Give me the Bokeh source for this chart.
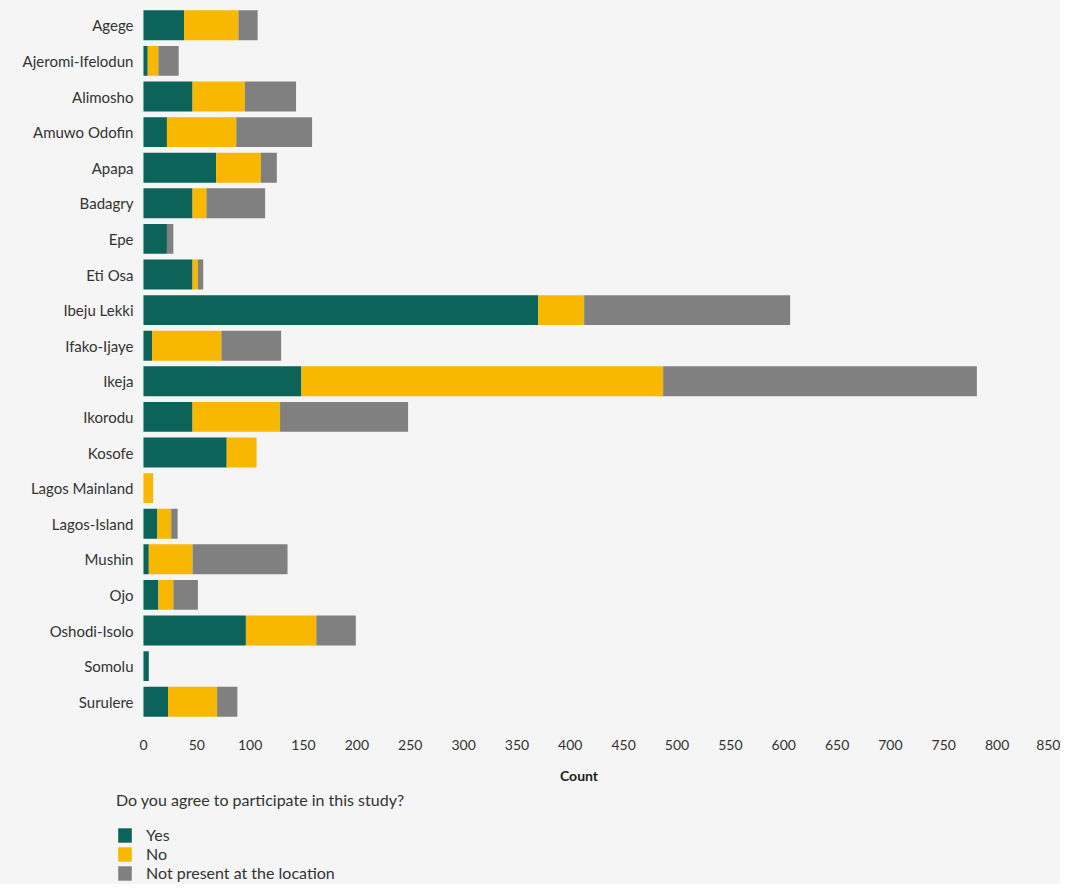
from bokeh.plotting import figure
from bokeh.models import Legend, LegendItem, FactorRange, Range1d, FixedTicker
from bokeh.layouts import column
from bokeh.embed import file_html
from bokeh.resources import INLINE

areas = ["Agege", "Ajeromi-Ifelodun", "Alimosho", "Amuwo Odofin", "Apapa", "Badagry",
         "Epe", "Eti Osa", "Ibeju Lekki", "Ifako-Ijaye", "Ikeja", "Ikorodu", "Kosofe",
         "Lagos Mainland", "Lagos-Island", "Mushin", "Ojo", "Oshodi-Isolo", "Somolu", "Surulere"]
yes = [38, 4, 46, 22, 68, 46, 22, 46, 370, 8, 148, 46, 78, 0, 13, 5, 14, 96, 5, 23]
no = [51, 10, 49, 65, 42, 13, 0, 5, 43, 65, 339, 82, 28, 9, 13, 41, 14, 66, 0, 46]
not_present = [18, 19, 48, 71, 15, 55, 6, 5, 193, 56, 294, 120, 0, 0, 6, 89, 23, 37, 0, 19]
series = ["Yes", "No", "Not present at the location"]
x_ticks = list(range(0, 851, 50))

colors = ["#0b6359", "#f9b800", "#808080"]
BG = "#f4f5f4"
FONT = "Lato"

data = {"area": areas, "Yes": yes, "No": no, "Not present at the location": not_present}

p = figure(frame_width=943, frame_height=712, output_backend="svg", toolbar_location=None,
           y_range=FactorRange(factors=list(reversed(areas)), range_padding=0),
           x_range=Range1d(-33.7, 850),
           min_border_left=107, min_border_right=10, min_border_top=7, min_border_bottom=70)
p.background_fill_color = BG
p.border_fill_color = BG
p.outline_line_color = None

r = p.hbar_stack(series, y="area", height=0.84, color=colors, source=data, line_width=0)

p.xgrid.visible = False
p.ygrid.visible = False

for ax in (p.xaxis[0], p.yaxis[0]):
    ax.axis_line_color = None
    ax.major_tick_line_color = None
    ax.minor_tick_line_color = None
    ax.major_label_text_font = FONT
    ax.major_label_text_color = "#333333"

p.yaxis.major_label_text_font_size = "15px"
p.xaxis.major_label_text_font_size = "14px"
p.yaxis.major_label_standoff = -32
p.xaxis.ticker = FixedTicker(ticks=x_ticks)
p.xaxis.major_label_standoff = 14
p.xaxis.axis_label = "Count"
p.xaxis.axis_label_text_font = FONT
p.xaxis.axis_label_text_font_style = "bold"
p.xaxis.axis_label_text_font_size = "14px"
p.xaxis.axis_label_text_color = "#222222"
p.xaxis.axis_label_standoff = 14

# Legend panel: a second figure holding hidden copies of the stacked bars
p2 = figure(width=1060, height=95, output_backend="svg", toolbar_location=None,
            y_range=FactorRange(factors=list(reversed(areas))),
            x_range=Range1d(0, 850),
            x_axis_location=None, y_axis_location=None,
            min_border_left=107, min_border_right=10, min_border_top=0, min_border_bottom=0)
p2.background_fill_color = BG
p2.border_fill_color = BG
p2.outline_line_color = None
p2.grid.visible = False
r2 = p2.hbar_stack(series, y="area", height=0.84, color=colors, source=data, line_width=0)
for rr in r2:
    rr.visible = False

items = [LegendItem(label=s, renderers=[r2[i]]) for i, s in enumerate(series)]
legend = Legend(items=items, location=(9, 2), orientation="vertical",
                title="Do you agree to participate in this study?",
                title_text_font=FONT, title_text_font_size="16px", title_text_color="#333333",
                title_text_font_style="normal", title_standoff=16,
                label_text_font=FONT, label_text_font_size="16px", label_text_color="#333333",
                glyph_width=17, glyph_height=18, label_height=15, spacing=-1,
                label_standoff=13, padding=0, margin=0,
                inactive_fill_alpha=0,
                background_fill_alpha=0, border_line_color=None)
p2.add_layout(legend, "center")

layout = column(p, p2, spacing=0)
layout.styles = {"background-color": BG}

open("out.html", "w").write(file_html(layout, INLINE))
